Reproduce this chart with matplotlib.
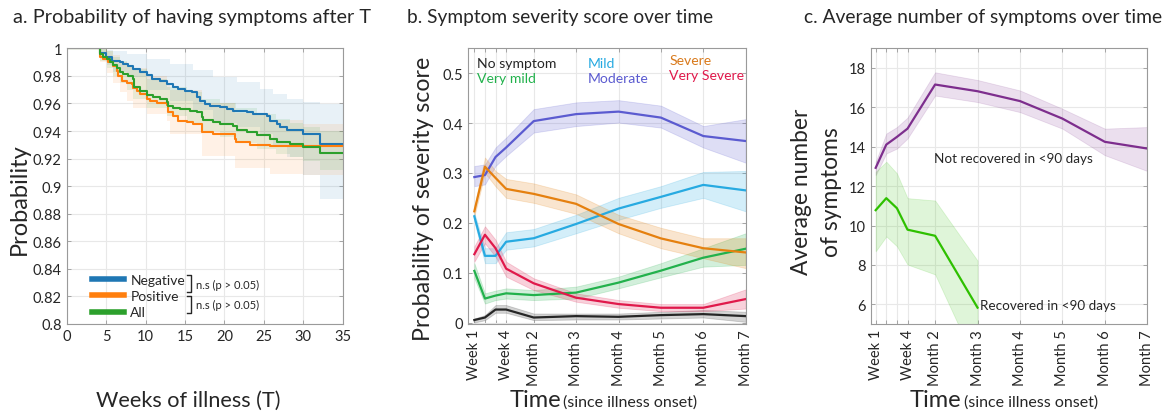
import matplotlib
matplotlib.use("Agg")
import matplotlib.pyplot as plt
from matplotlib.lines import Line2D

plt.rcParams['font.family'] = ['Lato', 'DejaVu Sans']

# ---------------- Panel a data (Kaplan-Meier) ----------------
neg_t = [0, 4.23, 4.99, 5.71, 6.76, 7.19, 7.82, 8.45, 9.30, 10.14, 10.78, 11.84, 12.68, 13.53, 14.16,
         15.0, 15.85, 16.49, 16.9, 17.54, 18.18, 19.44, 20.29, 21.14, 22.83, 23.67, 25.36, 25.79,
         26.63, 27.05, 27.9, 30.0, 32.1, 35]
neg_p = [1.0, 0.9966, 0.9935, 0.991, 0.9898, 0.9886, 0.9874, 0.985, 0.983, 0.9807, 0.978, 0.9765,
         0.974, 0.9717, 0.9705, 0.9693, 0.968, 0.9644, 0.962, 0.9596, 0.958, 0.9572, 0.956, 0.9548,
         0.9536, 0.9524, 0.951, 0.9475, 0.945, 0.9427, 0.941, 0.9379, 0.9306, 0.9306]
neg_band_t = [4.23, 5.07, 5.91, 7.6, 10.14, 13.1, 16.06, 18.6, 21.56, 24.5, 26.2, 27.9, 30.0, 32.1, 35]
neg_lo = [0.993, 0.988, 0.983, 0.979, 0.970, 0.962, 0.955, 0.946, 0.943, 0.938, 0.930, 0.921, 0.908, 0.891, 0.891]
neg_hi = [1.0, 0.999, 0.998, 0.9959, 0.9922, 0.9886, 0.984, 0.979, 0.9753, 0.9705, 0.967, 0.963, 0.961, 0.9596, 0.9596]

pos_t = [0, 4.23, 4.65, 5.28, 5.92, 6.34, 6.55, 6.97, 7.61, 8.24, 8.45, 8.88, 9.30, 10.14, 10.57,
         11.41, 12.68, 12.89, 13.53, 14.16, 15.22, 16.06, 17.12, 18.6, 21.35, 21.47, 23.25, 25.79, 35]
pos_p = [1.0, 0.994, 0.992, 0.9898, 0.987, 0.9838, 0.980, 0.9765, 0.975, 0.974, 0.971, 0.9693, 0.967,
         0.963, 0.962, 0.9603, 0.9589, 0.9536, 0.951, 0.9475, 0.9463, 0.945, 0.939, 0.9379, 0.934,
         0.9318, 0.930, 0.9289, 0.9289]
pos_band_t = [4.23, 5.07, 5.91, 6.76, 7.6, 8.45, 10.14, 12.68, 13.1, 17.1, 21.3, 25.8, 30.0, 35]
pos_lo = [0.990, 0.982, 0.975, 0.968, 0.962, 0.957, 0.952, 0.947, 0.938, 0.922, 0.913, 0.909, 0.908, 0.908]
pos_hi = [1.0, 0.998, 0.995, 0.990, 0.988, 0.986, 0.980, 0.975, 0.970, 0.960, 0.953, 0.948, 0.945, 0.943]

all_t = [0, 4.23, 4.65, 5.07, 5.49, 5.92, 6.34, 6.76, 7.19, 7.82, 8.45, 8.54, 9.30, 10.14, 10.99,
         11.84, 12.68, 12.89, 13.53, 14.37, 15.64, 16.49, 17.12, 17.33, 18.6, 19.44, 21.14, 21.56,
         22.83, 24.1, 25.79, 26.63, 28.32, 30.0, 32.1, 35]
all_p = [1.0, 0.9959, 0.994, 0.992, 0.990, 0.988, 0.986, 0.983, 0.9814, 0.980, 0.9778, 0.9717, 0.969,
         0.966, 0.9644, 0.963, 0.961, 0.958, 0.957, 0.956, 0.9548, 0.9536, 0.950, 0.9482, 0.9463,
         0.945, 0.9439, 0.941, 0.939, 0.937, 0.9342, 0.9323, 0.9306, 0.9282, 0.9238, 0.9238]
all_band_t = [4.23, 5.07, 5.91, 6.76, 7.6, 8.45, 10.14, 12.68, 15.2, 17.1, 19.4, 21.5, 24.1, 26.6,
              28.3, 30.0, 32.1, 35]
all_lo = [0.991, 0.986, 0.980, 0.975, 0.970, 0.963, 0.957, 0.951, 0.946, 0.940, 0.936, 0.931, 0.927,
          0.923, 0.921, 0.918, 0.912, 0.910]
all_hi = [1.0, 0.998, 0.994, 0.991, 0.988, 0.985, 0.978, 0.972, 0.968, 0.963, 0.960, 0.957, 0.952,
          0.949, 0.946, 0.943, 0.940, 0.938]

km_labels = ['Negative', 'Positive', 'All']
a_yticks = [0.8, 0.82, 0.84, 0.86, 0.88, 0.9, 0.92, 0.94, 0.96, 0.98, 1]
a_yticklabels = ['0.8', '0.82', '0.84', '0.86', '0.88', '0.9', '0.92', '0.94', '0.96', '0.98', '1']
a_xticks = [0, 5, 10, 15, 20, 25, 30, 35]

# ---------------- Panel b/c time axis ----------------
time_pos = [1, 2, 3, 4, 6.6, 10.6, 14.6, 18.6, 22.6, 26.6]
time_labels = ['Week 1', '', '', 'Week 4', 'Month 2', 'Month 3', 'Month 4', 'Month 5', 'Month 6', 'Month 7']

# ---------------- Panel b data ----------------
sev_names = ['No symptom', 'Very mild', 'Mild', 'Moderate', 'Severe', 'Very Severe']
no_symptom = [0.005, 0.010, 0.026, 0.026, 0.010, 0.0128, 0.0114, 0.0148, 0.0168, 0.0128]
no_symptom_lo = [0.0, 0.0047, 0.0195, 0.0195, 0.0047, 0.006, 0.006, 0.008, 0.010, 0.0013]
no_symptom_hi = [0.008, 0.0148, 0.035, 0.035, 0.018, 0.018, 0.018, 0.0215, 0.025, 0.0215]
very_mild = [0.1035, 0.048, 0.054, 0.0585, 0.055, 0.060, 0.080, 0.104, 0.130, 0.148]
very_mild_lo = [0.0887, 0.038, 0.045, 0.048, 0.045, 0.048, 0.0685, 0.0907, 0.112, 0.1156]
very_mild_hi = [0.119, 0.0585, 0.064, 0.0685, 0.065, 0.072, 0.092, 0.119, 0.149, 0.179]
mild = [0.213, 0.1337, 0.1337, 0.162, 0.169, 0.1976, 0.2285, 0.252, 0.276, 0.265]
mild_lo = [0.203, 0.119, 0.119, 0.146, 0.1526, 0.179, 0.206, 0.230, 0.250, 0.223]
mild_hi = [0.220, 0.149, 0.149, 0.181, 0.1875, 0.216, 0.250, 0.2735, 0.302, 0.304]
moderate = [0.2917, 0.2957, 0.332, 0.351, 0.404, 0.418, 0.423, 0.411, 0.374, 0.364]
moderate_lo = [0.2735, 0.277, 0.314, 0.334, 0.381, 0.394, 0.401, 0.391, 0.351, 0.3205]
moderate_hi = [0.314, 0.317, 0.351, 0.371, 0.428, 0.4415, 0.446, 0.435, 0.394, 0.408]
severe = [0.223, 0.3125, 0.290, 0.268, 0.258, 0.238, 0.1976, 0.1687, 0.149, 0.1405]
severe_lo = [0.213, 0.300, 0.273, 0.250, 0.240, 0.218, 0.179, 0.149, 0.129, 0.109]
severe_hi = [0.233, 0.331, 0.304, 0.288, 0.279, 0.257, 0.216, 0.190, 0.169, 0.169]
very_severe = [0.137, 0.176, 0.149, 0.108, 0.0786, 0.0497, 0.037, 0.0296, 0.0296, 0.047]
very_severe_lo = [0.122, 0.159, 0.132, 0.092, 0.065, 0.0417, 0.0296, 0.0228, 0.0228, 0.028]
very_severe_hi = [0.1526, 0.193, 0.166, 0.122, 0.0887, 0.0585, 0.045, 0.037, 0.037, 0.0665]
b_yticks = [0, 0.1, 0.2, 0.3, 0.4, 0.5]
b_yticklabels = ['0', '0.1', '0.2', '0.3', '0.4', '0.5']

# ---------------- Panel c data ----------------
not_recovered = [12.93, 14.11, 14.5, 14.92, 17.16, 16.82, 16.32, 15.43, 14.25, 13.91]
not_recovered_lo = [12.56, 13.66, 13.91, 14.42, 16.60, 16.27, 15.76, 14.92, 13.57, 12.77]
not_recovered_hi = [13.24, 14.67, 15.0, 15.48, 17.78, 17.39, 16.86, 15.93, 14.92, 15.0]
recovered = [10.78, 11.39, 10.88, 9.79, 9.48, 5.83]
recovered_lo = [8.69, 9.45, 8.95, 8.02, 7.52, 2.85]
recovered_hi = [12.73, 13.24, 12.65, 11.39, 11.27, 8.22]
c_yticks = [6, 8, 10, 12, 14, 16, 18]
c_labels = ['Not recovered in <90 days', 'Recovered in <90 days']

# ---------------- styling ----------------
TXT = '#262626'
SPINE = '#9a9a9a'
GRID = '#e8e8e8'
W, H = 1164, 414

fig = plt.figure(figsize=(W / 100, H / 100), dpi=100)


def px_axes(left, right, top, bottom):
    return fig.add_axes([left / W, 1 - bottom / H, (right - left) / W, (bottom - top) / H])


def style(ax):
    for s in ax.spines.values():
        s.set_color(SPINE)
        s.set_linewidth(0.8)
    ax.tick_params(direction='in', length=3, width=0.6, color=SPINE, labelcolor=TXT,
                   labelsize=10.5, top=True, right=True)
    ax.grid(True, color=GRID, lw=0.8)
    ax.set_axisbelow(True)


ax_a = px_axes(66.7, 342.7, 49.3, 325)
ax_b = px_axes(468.3, 745.7, 49.3, 325)
ax_c = px_axes(870.7, 1147.3, 49.3, 325)
for ax in (ax_a, ax_b, ax_c):
    style(ax)

# ---------- Panel a ----------
km_colors = ['#1f77b4', '#ff7f0e', '#2ca02c']
series = [(neg_t, neg_p, neg_band_t, neg_lo, neg_hi),
          (pos_t, pos_p, pos_band_t, pos_lo, pos_hi),
          (all_t, all_p, all_band_t, all_lo, all_hi)]
for (t, p, bt, lo, hi), col in zip(series, km_colors):
    ax_a.fill_between(bt, lo, hi, step='post', color=col, alpha=0.1, lw=0)
for (t, p, bt, lo, hi), col in zip(series, km_colors):
    ax_a.step(t, p, where='post', color=col, lw=1.5)
ax_a.set_xlim(0, 35)
ax_a.set_ylim(0.8, 1.0)
ax_a.set_xticks(a_xticks)
ax_a.set_yticks(a_yticks)
ax_a.set_yticklabels(a_yticklabels)
handles = [Line2D([], [], color=c, lw=4) for c in km_colors]
ax_a.legend(handles, km_labels, loc='lower left', bbox_to_anchor=(0.092, 0.02), frameon=False,
            fontsize=10, handlelength=2.3, handletextpad=0.45, labelspacing=0.3,
            borderpad=0, borderaxespad=0, labelcolor=TXT)
for y0, y1 in [(0.178, 0.116), (0.1016, 0.040)]:
    ax_a.plot([0.436, 0.450, 0.450, 0.436], [y0, y0, y1, y1], transform=ax_a.transAxes,
              color=TXT, lw=1.0, clip_on=False)
for yy in (0.145, 0.0725):
    ax_a.text(0.468, yy, 'n.s (p > 0.05)', transform=ax_a.transAxes, fontsize=8, color=TXT,
              va='center', ha='left')
fig.text(13 / W, 1 - 17 / H, 'a. Probability of having symptoms after T', fontsize=14.3,
         color=TXT, ha='left', va='center')
fig.text(19 / W, 1 - 199 / H, 'Probability', fontsize=17, rotation=90, color=TXT,
         ha='center', va='center')
fig.text(188.5 / W, 1 - 407 / H, 'Weeks of illness (T)', fontsize=15.6, color=TXT,
         ha='center', va='baseline')

# ---------- Panel b ----------
b_series = [(no_symptom, no_symptom_lo, no_symptom_hi, '#262626'),
            (very_mild, very_mild_lo, very_mild_hi, '#22b14c'),
            (mild, mild_lo, mild_hi, '#27aae1'),
            (moderate, moderate_lo, moderate_hi, '#5b5bd0'),
            (severe, severe_lo, severe_hi, '#e5800f'),
            (very_severe, very_severe_lo, very_severe_hi, '#e0194b')]
b_text_colors = ['#262626', '#22b14c', '#27aae1', '#5b5bd0', '#d97a1c', '#e0194b']
for v, lo, hi, col in b_series:
    ax_b.fill_between(time_pos, lo, hi, color=col, alpha=0.2, lw=0.6, edgecolor=col)
for v, lo, hi, col in b_series:
    ax_b.plot(time_pos, v, color=col, lw=1.6)
ax_b.set_xlim(0.43, 26.6)
ax_b.set_ylim(-0.003, 0.55)
ax_b.set_xticks(time_pos)
ax_b.set_xticklabels(time_labels, rotation=90)
ax_b.set_yticks(b_yticks)
ax_b.set_yticklabels(b_yticklabels)
leg_pos = [(0.030, 0.947), (0.030, 0.892), (0.429, 0.947), (0.429, 0.892), (0.725, 0.958), (0.725, 0.903)]
for name, (x, y), col in zip(sev_names, leg_pos, b_text_colors):
    ax_b.text(x, y, name, transform=ax_b.transAxes, color=col, fontsize=10.1, ha='left', va='center')
fig.text(406.7 / W, 1 - 17 / H, 'b. Symptom severity score over time', fontsize=13.8,
         color=TXT, ha='left', va='center')
fig.text(423 / W, 1 - 198.5 / H, 'Probability of severity score', fontsize=16.7, rotation=90,
         color=TXT, ha='center', va='center')
fig.text(510 / W, 1 - 407 / H, 'Time', fontsize=17, color=TXT, ha='left', va='baseline')
fig.text(563 / W, 1 - 407 / H, '(since illness onset)', fontsize=11.5, color=TXT, ha='left',
         va='baseline')

# ---------- Panel c ----------
c_colors = ['#7d2e8d', '#2ec000']
ax_c.fill_between(time_pos, not_recovered_lo, not_recovered_hi, color=c_colors[0], alpha=0.15,
                  lw=0.6, edgecolor=c_colors[0])
ax_c.fill_between(time_pos[:len(recovered)], recovered_lo, recovered_hi, color=c_colors[1],
                  alpha=0.15, lw=0.6, edgecolor=c_colors[1])
ax_c.plot(time_pos, not_recovered, color=c_colors[0], lw=1.6)
ax_c.plot(time_pos[:len(recovered)], recovered, color=c_colors[1], lw=1.6)
ax_c.set_xlim(0.53, 26.6)
ax_c.set_ylim(5, 19)
ax_c.set_xticks(time_pos)
ax_c.set_xticklabels(time_labels, rotation=90)
ax_c.set_yticks(c_yticks)
ax_c.text(6.45, 13.45, c_labels[0], color=TXT, fontsize=9.7, ha='left', va='center')
ax_c.text(time_pos[len(recovered) - 1] + 0.2, 5.95, c_labels[1], color=TXT, fontsize=9.7,
          ha='left', va='center')
fig.text(804 / W, 1 - 17 / H, 'c. Average number of symptoms over time', fontsize=13.9,
         color=TXT, ha='left', va='center')
fig.text(801.7 / W, 1 - 192 / H, 'Average number', fontsize=16.4, rotation=90, color=TXT,
         ha='center', va='center')
fig.text(831.7 / W, 1 - 192 / H, 'of symptoms', fontsize=16.4, rotation=90, color=TXT,
         ha='center', va='center')
fig.text(910 / W, 1 - 407 / H, 'Time', fontsize=17, color=TXT, ha='left', va='baseline')
fig.text(964 / W, 1 - 407 / H, '(since illness onset)', fontsize=11.5, color=TXT, ha='left',
         va='baseline')

fig.savefig('out.png', dpi=100)
